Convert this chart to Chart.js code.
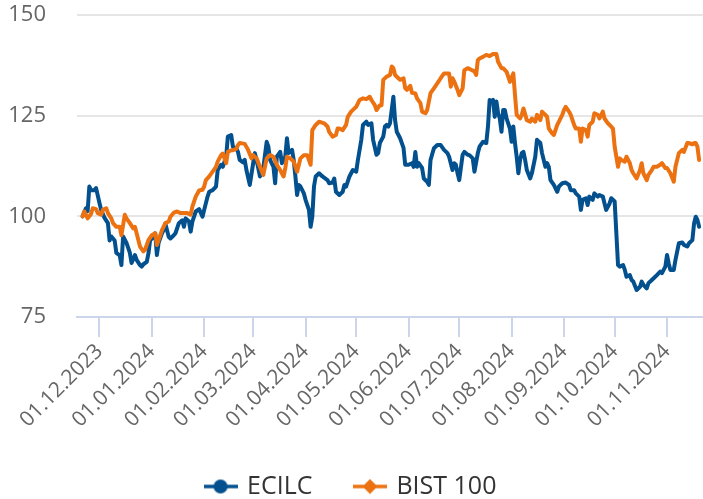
<!DOCTYPE html>
<html><head><meta charset="utf-8">
<script src="https://cdn.jsdelivr.net/npm/chart.js@4.4.0/dist/chart.umd.min.js"></script>
<style>html,body{margin:0;padding:0;background:#fff}#wrap{width:703px;height:499px}</style>
</head><body><div id="wrap"><canvas id="c" width="703" height="499"></canvas></div>
<script>
// x values are calendar days counted from 01.12.2023
const monthStartDays = [0, 31, 62, 91, 122, 152, 183, 213, 244, 275, 305, 336];
const tickLabels = ['01.12.2023','01.01.2024','01.02.2024','01.03.2024','01.04.2024','01.05.2024','01.06.2024','01.07.2024','01.08.2024','01.09.2024','01.10.2024','01.11.2024'];
const seriesNames = ['ECILC', 'BIST 100'];

const ecilcDays = [-10,-8,-7,-6,-5,-3,-2,0,1,3,5,6,7,9,10,12,13,14,16,18,19,21,22,24,25,26,28,29,30,32,33,34,35,37,38,39,41,42,44,45,47,49,50,51,53,54,55,57,59,61,62,64,65,67,69,70,72,73,75,76,78,79,81,82,
83,85,86,87,89,91,92,93,95,97,99,100,101,103,104,105,107,108,110,111,112,114,115,116,117,118,119,121,122,124,125,126,127,128,130,132,135,136,138,139,140,142,144,145,146,148,150,152,153,155,156,158,159,161,162,164,165,166,168,169,170,171,172,174,175,176,178,179,180,181,183,185,186,187,188,189,191,192,194,195,196,198,200,202,204,206,207,209,210,211,212,213,215,216,218,
219,221,222,224,225,227,229,230,231,232,233,234,235,236,237,238,239,240,241,243,244,245,246,247,248,249,250,251,252,253,255,256,258,259,261,262,264,265,266,267,269,271,272,274,276,278,279,281,282,284,285,286,288,289,290,292,293,295,296,298,299,300,302,303,305,306,307,308,310,311,312,314,315,316,318,320,321,322,324,325,327,329,330,332,333,335,336,337,338,340,341,343,345,346,348,349,351,352,353,354,355];
const ecilcValues = [100.0,102.0,101.3,107.4,106.5,106.5,107.0,103.3,101.6,99.6,98.3,94.0,95.0,94.0,90.9,90.3,87.9,95.0,93.4,90.9,88.4,90.4,89.2,87.9,87.5,88.1,88.7,90.8,94.1,94.8,95.8,90.4,93.4,95.8,96.6,98.2,94.9,94.5,95.3,95.8,98.3,99.0,97.4,99.5,98.7,96.2,98.7,101.2,101.8,99.9,101.6,104.9,106.1,106.5,107.4,111.5,112.8,112.3,114.8,119.8,120.2,117.3,116.8,116.0,
114.0,113.4,114.0,111.5,107.8,113.2,115.7,114.0,109.9,112.0,118.5,117.3,114.0,112.3,108.2,114.8,116.0,113.2,114.8,119.4,115.7,116.5,114.0,109.9,105.3,107.8,107.4,105.7,104.1,101.6,97.4,99.9,107.4,109.9,110.7,109.9,109.0,108.2,108.4,109.4,106.1,105.3,106.1,107.8,107.4,109.9,111.5,111.1,114.0,119.0,122.7,123.5,122.7,123.1,119.0,115.3,115.7,118.2,119.8,122.3,122.7,122.3,123.1,129.7,123.9,121.0,119.4,118.2,117.0,112.8,112.8,113.2,112.3,116.0,112.3,113.2,112.0,109.4,108.6,107.8,114.0,116.9,117.7,117.7,116.5,115.7,114.8,111.5,113.2,112.8,110.7,109.0,115.3,116.0,115.3,
115.2,114.4,111.1,115.7,117.3,118.5,118.2,122.3,128.9,128.5,128.9,124.7,128.5,125.6,124.3,121.0,126.4,126.4,124.3,121.8,118.5,122.3,118.2,114.8,110.7,114.0,115.7,116.0,114.0,111.5,109.4,110.7,114.8,119.0,118.2,115.7,112.3,113.2,112.3,109.0,107.8,106.1,107.4,108.2,108.4,107.8,106.5,106.5,105.7,104.9,101.6,104.1,104.5,102.8,104.9,104.1,105.7,104.9,105.3,104.9,103.2,101.6,103.2,104.5,103.7,95.8,87.9,87.5,87.9,86.7,85.0,85.4,84.2,83.8,81.7,82.5,83.8,83.0,82.1,83.4,84.2,85.0,85.4,86.3,85.9,87.5,90.4,88.3,86.7,86.7,89.2,93.3,93.5,92.9,92.5,93.3,94.1,98.2,99.9,99.1,97.4];

const bistDays = [-10,-9,-8,-7,-5,-4,-2,-1,1,2,4,5,7,8,10,12,13,15,16,18,20,21,22,24,26,27,29,31,33,34,36,37,39,41,42,44,46,48,50,52,54,55,57,59,61,62,63,65,67,69,70,72,73,75,76,78,79,81,82,
83,86,88,90,91,93,95,97,99,101,103,105,107,109,110,111,113,115,117,119,121,123,125,126,128,130,133,135,136,138,140,141,142,144,146,147,149,151,152,154,156,158,160,161,163,164,166,167,168,170,172,173,174,175,177,178,180,181,182,184,185,187,188,190,191,193,194,196,198,200,202,204,207,208,209,210,212,213,215,216,218,
220,222,223,224,225,227,229,231,233,235,236,238,239,241,242,243,245,246,247,249,250,251,253,255,256,258,259,261,262,264,265,266,268,269,271,272,274,275,276,278,279,281,282,284,285,286,288,289,290,292,293,295,296,298,299,301,302,304,305,307,308,309,311,312,314,315,316,318,320,321,322,324,325,327,328,330,332,333,335,336,338,340,341,343,345,346,348,349,351,352,353,354,355];
const bistValues = [100.0,101.2,100.4,99.5,100.6,102.0,101.8,100.8,100.4,101.6,102.0,100.8,99.5,98.3,97.4,97.4,95.3,100.4,99.5,98.3,97.0,97.4,95.8,92.5,91.3,91.7,94.1,95.3,95.8,92.9,95.3,96.6,98.3,98.7,99.9,100.9,101.2,100.8,100.8,100.8,100.4,102.4,104.9,106.4,106.6,107.4,109.0,109.9,111.1,112.3,113.6,115.2,115.6,113.2,116.0,116.4,116.4,116.8,117.7,
118.2,118.0,116.5,114.4,115.2,114.4,112.3,110.3,114.4,115.2,114.8,112.8,111.5,109.9,111.9,114.8,114.4,113.6,111.1,114.4,115.2,115.2,112.8,121.4,122.7,123.5,123.1,122.3,121.0,119.8,120.2,121.8,121.8,121.4,122.7,124.7,126.0,126.8,127.2,128.9,129.3,129.1,129.7,128.9,127.6,126.4,127.6,127.6,133.9,134.7,135.1,137.2,136.8,135.1,134.3,133.9,134.3,131.8,131.4,132.4,130.7,130.5,129.3,128.1,126.0,125.6,126.4,130.6,131.8,133.0,134.3,135.5,135.5,132.2,134.3,133.5,131.4,130.1,131.8,136.3,136.8,
136.4,136.0,135.1,138.8,139.2,139.6,140.1,139.8,140.3,140.3,138.4,136.8,136.8,135.9,134.7,133.4,135.5,130.1,125.2,124.3,125.2,126.8,123.9,123.5,124.3,123.5,125.2,123.9,126.0,125.2,124.7,121.8,120.6,120.2,122.7,123.5,125.2,126.4,127.2,126.0,125.2,122.7,121.8,121.8,118.5,121.8,121.4,119.8,122.7,123.5,125.6,125.2,124.3,126.0,124.3,123.1,122.7,121.8,117.3,112.3,114.4,114.0,113.6,114.8,113.2,111.5,110.7,109.4,111.5,113.2,110.7,109.0,110.3,111.5,112.3,112.3,112.8,113.2,112.0,112.0,110.7,108.6,112.3,115.7,116.5,116.0,118.2,118.2,117.9,118.2,118.2,117.3,114.0];

const seriesColors = ['#03508f', '#ec7211'];

function toPoints(days, values) { return days.map((d, i) => ({x: d, y: values[i]})); }

function legendIcon(color, shape) {
  const c = document.createElement('canvas');
  c.width = 34; c.height = 16;
  const g = c.getContext('2d');
  g.strokeStyle = color; g.lineWidth = 3.5;
  g.beginPath(); g.moveTo(0, 8); g.lineTo(34, 8); g.stroke();
  g.fillStyle = color; g.beginPath();
  if (shape === 'circle') { g.arc(17, 8, 7, 0, Math.PI * 2); }
  else { g.moveTo(17, 0.5); g.lineTo(24.5, 8); g.lineTo(17, 15.5); g.lineTo(9.5, 8); g.closePath(); }
  g.fill();
  return c;
}
const icons = [legendIcon(seriesColors[0], 'circle'), legendIcon(seriesColors[1], 'diamond')];
const legendPadding = 43.5;

new Chart(document.getElementById('c'), {
  type: 'line',
  data: {
    datasets: [
      {label: seriesNames[0], data: toPoints(ecilcDays, ecilcValues), borderColor: seriesColors[0], backgroundColor: seriesColors[0], borderWidth: 4, pointRadius: 0, tension: 0, borderJoinStyle: 'round', borderCapStyle: 'round', order: 2},
      {label: seriesNames[1], data: toPoints(bistDays, bistValues), borderColor: seriesColors[1], backgroundColor: seriesColors[1], borderWidth: 4, pointRadius: 0, tension: 0, borderJoinStyle: 'round', borderCapStyle: 'round', order: 1}
    ]
  },
  options: {
    responsive: false,
    animation: false,
    devicePixelRatio: 1,
    events: [],
    layout: {padding: {top: 15, bottom: -10, left: 0, right: 0}},
    plugins: {
      tooltip: {enabled: false},
      legend: {
        position: 'bottom',
        labels: {
          usePointStyle: true,
          pointStyleWidth: 28,
          padding: legendPadding,
          color: '#333333',
          font: {family: "'Open Sans', sans-serif", size: 25},
          generateLabels: (chart) => chart.data.datasets.map((ds, i) => ({
            text: ds.label, fillStyle: ds.borderColor, strokeStyle: ds.borderColor,
            lineWidth: 0, pointStyle: icons[i], hidden: false, datasetIndex: i, fontColor: '#333333'
          }))
        }
      }
    },
    scales: {
      x: {
        type: 'linear',
        min: -13.3,
        max: 357.3,
        afterBuildTicks: (scale) => { scale.ticks = monthStartDays.map(v => ({value: v})); },
        afterFit: (scale) => { scale.height = 157 - legendPadding; scale.paddingLeft = 0; scale.paddingRight = 0; },
        ticks: {
          autoSkip: false, minRotation: 45, maxRotation: 45, padding: 2,
          color: '#666666',
          font: {family: "'Open Sans', sans-serif", size: 21},
          callback: (value) => tickLabels[monthStartDays.indexOf(value)]
        },
        grid: {drawOnChartArea: false, drawTicks: true, tickLength: 20, color: '#ccd6eb', lineWidth: 2},
        border: {display: true, color: '#ccd6eb', width: 2}
      },
      y: {
        min: 75, max: 150,
        afterFit: (scale) => { scale.width = 77; scale.paddingTop = 0; scale.paddingBottom = 0; },
        ticks: {stepSize: 25, padding: 31, color: '#666666', font: {family: "'Open Sans', sans-serif", size: 22}},
        grid: {drawTicks: false, lineWidth: 2, color: (ctx) => ctx.tick && ctx.tick.value === 75 ? 'rgba(0,0,0,0)' : '#e6e6e6'},
        border: {display: false}
      }
    }
  }
});
</script>
</body></html>
